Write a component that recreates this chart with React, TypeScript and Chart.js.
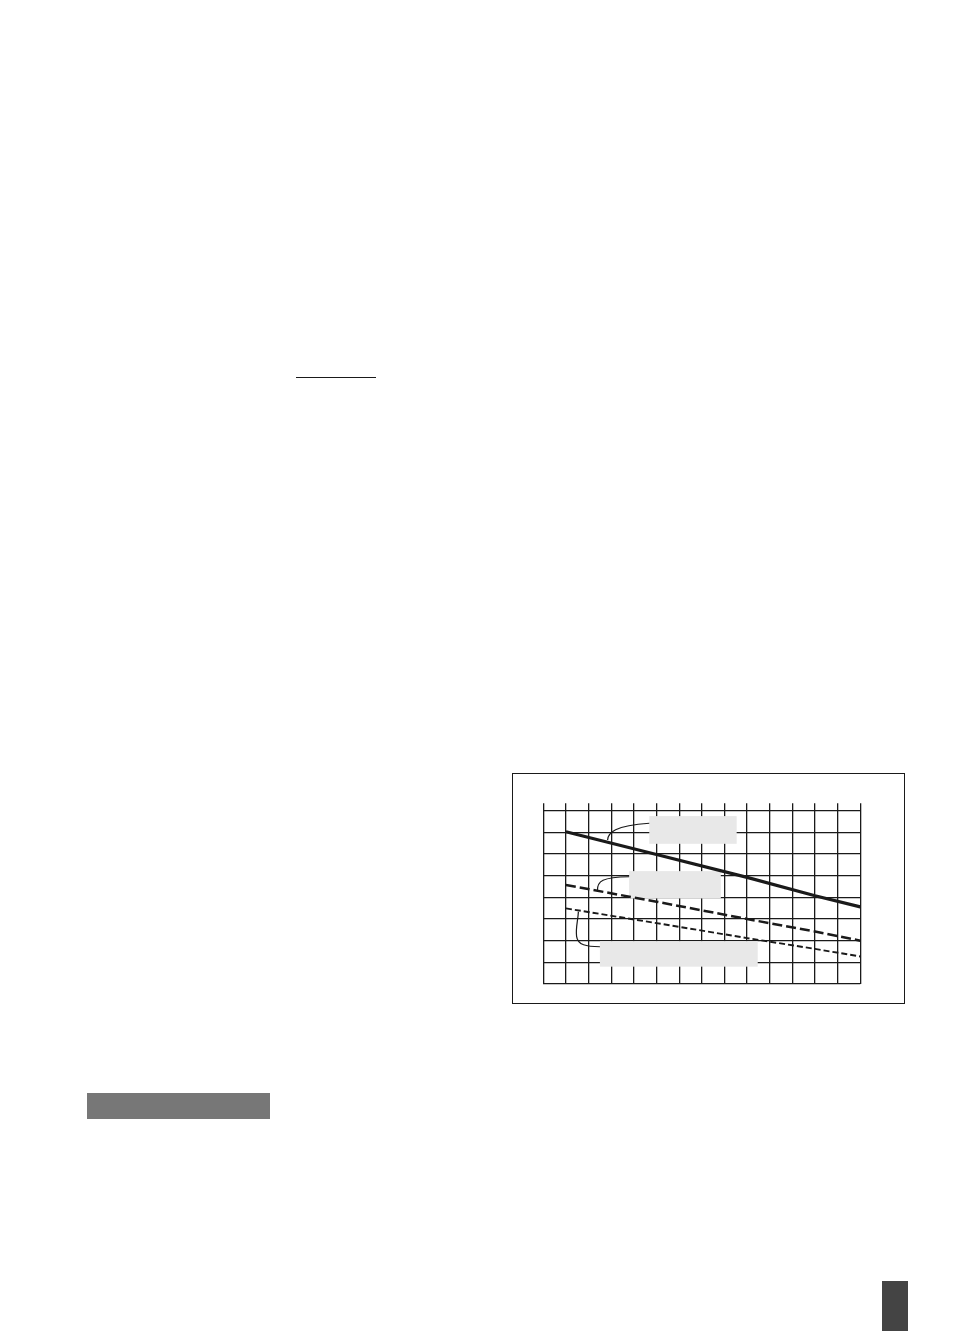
import React, { useEffect, useRef } from "react";
import { Chart, registerables } from "chart.js";

Chart.register(...registerables);

// ---- data ----
const xPositions = [1, 5, 9, 12, 14];
const solidValues = [7.03, 5.98, 4.92, 4.07, 3.56];
const longDashValues = [4.57, 3.8, 3.0, 2.42, 2.0];
const shortDashValues = [3.49, 2.81, 2.12, 1.62, 1.27];

const xTickCount = 14; // vertical grid intervals
const yTickCount = 8; // horizontal grid intervals
const yTopExtra = 0.34; // vertical lines extend above the top horizontal line

// label placeholder boxes in data units: [x0, x1, yTop, yBottom]
const labelBoxes: number[][] = [
  [4.68, 8.54, 7.75, 6.47],
  [3.79, 7.84, 5.21, 3.95],
  [2.5, 9.47, 1.98, 0.8],
];

// leader curves in data units: start point then cubic bezier segments (c1, c2, end)
const leaders: number[][][] = [
  [
    [2.84, 6.65],
    [2.86, 7.0], [3.15, 7.3], [4.68, 7.42],
  ],
  [
    [2.39, 4.31],
    [2.38, 4.75], [2.6, 4.93], [3.79, 4.95],
  ],
  [
    [1.55, 3.34],
    [1.53, 2.9], [1.42, 2.6], [1.47, 2.2],
    [1.52, 1.8], [1.9, 1.72], [2.5, 1.72],
  ],
];

const labelPlugin = {
  id: "labelBoxes",
  beforeDatasetsDraw(chart: any) {
    const { ctx, scales } = chart;
    const xs = scales.x;
    const ys = scales.y;
    ctx.save();
    ctx.fillStyle = "#e8e8e8";
    labelBoxes.forEach((b) => {
      const x0 = xs.getPixelForValue(b[0]);
      const x1 = xs.getPixelForValue(b[1]);
      const y0 = ys.getPixelForValue(b[2]);
      const y1 = ys.getPixelForValue(b[3]);
      ctx.fillRect(x0, y0, x1 - x0, y1 - y0);
    });
    ctx.strokeStyle = "#1a1a1a";
    ctx.lineWidth = 1.2;
    leaders.forEach((pts) => {
      ctx.beginPath();
      ctx.moveTo(xs.getPixelForValue(pts[0][0]), ys.getPixelForValue(pts[0][1]));
      for (let i = 1; i + 2 < pts.length; i += 3) {
        const c1 = pts[i], c2 = pts[i + 1], e = pts[i + 2];
        ctx.bezierCurveTo(
          xs.getPixelForValue(c1[0]), ys.getPixelForValue(c1[1]),
          xs.getPixelForValue(c2[0]), ys.getPixelForValue(c2[1]),
          xs.getPixelForValue(e[0]), ys.getPixelForValue(e[1])
        );
      }
      ctx.stroke();
    });
    ctx.restore();
  },
};

function toPoints(vals: number[]) {
  return vals.map((v, i) => ({ x: xPositions[i], y: v }));
}

function ChartBox() {
  const ref = useRef<HTMLCanvasElement | null>(null);
  useEffect(() => {
    if (!ref.current) return;
    const chart = new Chart(ref.current, {
      type: "line",
      data: {
        datasets: [
          {
            data: toPoints(solidValues),
            borderColor: "#1a1a1a",
            borderWidth: 3.2,
            pointRadius: 0,
            tension: 0,
          },
          {
            data: toPoints(longDashValues),
            borderColor: "#1a1a1a",
            borderWidth: 2.5,
            borderDash: [10, 4],
            pointRadius: 0,
            tension: 0,
          },
          {
            data: toPoints(shortDashValues),
            borderColor: "#1a1a1a",
            borderWidth: 1.9,
            borderDash: [6, 3],
            pointRadius: 0,
            tension: 0,
          },
        ],
      },
      options: {
        animation: false,
        responsive: true,
        maintainAspectRatio: false,
        layout: { padding: { left: 30.3, top: 29.3, right: 43.7, bottom: 19 } },
        plugins: { legend: { display: false }, tooltip: { enabled: false } },
        scales: {
          x: {
            type: "linear",
            min: 0,
            max: xTickCount,
            ticks: { display: false, stepSize: 1 },
            grid: { color: "#1a1a1a", lineWidth: 1.3, drawTicks: false },
            border: { display: false },
            afterFit: (s: any) => {
              s.height = 0;
            },
          },
          y: {
            type: "linear",
            min: 0,
            max: yTickCount + yTopExtra,
            ticks: { display: false, stepSize: 1, includeBounds: false },
            afterBuildTicks: (s: any) => {
              s.ticks = s.ticks.filter((t: any) => Number.isInteger(t.value) && t.value <= yTickCount);
            },
            grid: { color: "#1a1a1a", lineWidth: 1.3, drawTicks: false },
            border: { display: false },
            afterFit: (s: any) => {
              s.width = 0;
            },
          },
        },
      },
      plugins: [labelPlugin],
    } as any);
    return () => chart.destroy();
  }, []);
  return (
    <div
      style={{
        position: "absolute",
        left: 512 - 8,
        top: 773 - 8,
        width: 393,
        height: 231,
        border: "1.3px solid #1a1a1a",
        boxSizing: "border-box",
        background: "#fff",
      }}
    >
      <div style={{ position: "relative", width: "100%", height: "100%" }}>
        <canvas ref={ref} />
      </div>
    </div>
  );
}

export default function App() {
  return (
    <div style={{ position: "relative", width: 954 - 16, height: 1339 - 16 }}>
      <div
        style={{
          position: "absolute",
          left: 296 - 8,
          top: 376.5 - 8,
          width: 80,
          height: 1.4,
          background: "#1a1a1a",
        }}
      />
      <ChartBox />
      <div
        style={{
          position: "absolute",
          left: 87 - 8,
          top: 1093 - 8,
          width: 183,
          height: 26,
          background: "#777777",
        }}
      />
      <div
        style={{
          position: "absolute",
          left: 882 - 8,
          top: 1281 - 8,
          width: 26,
          height: 66,
          background: "#444444",
        }}
      />
    </div>
  );
}
